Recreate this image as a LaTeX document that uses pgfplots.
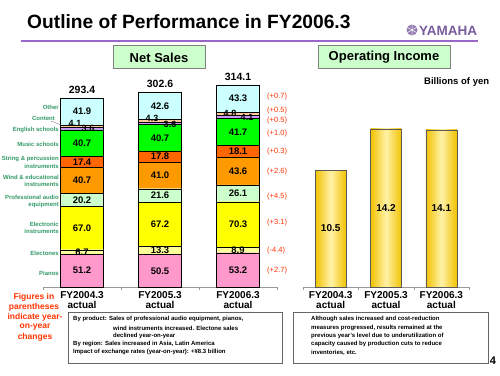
\documentclass[border=0pt]{standalone}
\usepackage{pgfplots}
\pgfplotsset{compat=1.18}
\usepackage{fontspec}
\setmainfont{Liberation Sans}
\definecolor{cPiano}{HTML}{FF99CC}
\definecolor{cElectone}{HTML}{FFFF99}
\definecolor{cElectronic}{HTML}{FFFF00}
\definecolor{cPro}{HTML}{CCFFCC}
\definecolor{cWind}{HTML}{FF9900}
\definecolor{cString}{HTML}{FF6600}
\definecolor{cMusic}{HTML}{00FF00}
\definecolor{cEnglish}{HTML}{CC99FF}
\definecolor{cContent}{HTML}{FFCC99}
\definecolor{cOther}{HTML}{CCFFFF}
\definecolor{catGreen}{HTML}{339966}
\definecolor{chRed}{HTML}{FF3300}
\definecolor{purpleLine}{HTML}{9966CC}
\definecolor{yamahaC}{HTML}{7A5C9E}
\definecolor{boxGreen}{HTML}{CCFFCC}
\definecolor{goldD}{HTML}{F2C200}
\definecolor{goldL}{HTML}{FFF2A8}
\newcommand{\fs}[1]{\fontsize{#1}{#1}\selectfont}
% label at bar-centre pixel x and data value v (net sales scale: 0.644 px per unit, zero at 287)
\newcommand{\lb}[3]{\node[font=\bfseries\fs{9.5}, inner sep=0pt] at (#1,{287-0.644*#2}) {#3};}
\newcommand{\slb}[3]{\node[font=\bfseries\fs{9}, inner sep=0pt] at (#1,{287-0.644*#2}) {#3};}
\begin{document}
\begin{tikzpicture}
\useasboundingbox (0pt,0pt) rectangle (500pt,375pt);

% ===== Net sales stacked bars =====
\begin{axis}[at={(43pt,88pt)}, anchor=south west, scale only axis,
  width=234pt, height=206.08pt, xmin=0.5, xmax=3.5, ymin=0, ymax=320,
  ybar stacked, bar width=43pt,
  axis y line=none, axis x line*=bottom, x axis line style={gray!80, -},
  xtick={1,2,3}, xticklabels={{FY2004.3\\actual},{FY2005.3\\actual},{FY2006.3\\actual}},
  xticklabel style={font=\bfseries\fs{10}, align=center, yshift=-1pt},
  major tick length=0pt, minor xtick={0.5,1.5,2.5,3.5}, minor tick length=3pt,
  tick align=outside, minor tick style={gray!80},
  clip=false]
\addplot[fill=cPiano, draw=black] coordinates {(1,51.2)(2,50.5)(3,53.2)};
\addplot[fill=cElectone, draw=black] coordinates {(1,6.7)(2,13.3)(3,8.9)};
\addplot[fill=cElectronic, draw=black] coordinates {(1,67.0)(2,67.2)(3,70.3)};
\addplot[fill=cPro, draw=black] coordinates {(1,20.2)(2,21.6)(3,26.1)};
\addplot[fill=cWind, draw=black] coordinates {(1,40.7)(2,41.0)(3,43.6)};
\addplot[fill=cString, draw=black] coordinates {(1,17.4)(2,17.8)(3,18.1)};
\addplot[fill=cMusic, draw=black] coordinates {(1,40.7)(2,40.7)(3,41.7)};
\addplot[fill=cEnglish, draw=black] coordinates {(1,3.6)(2,3.6)(3,4.1)};
\addplot[fill=cContent, draw=black] coordinates {(1,4.1)(2,4.3)(3,4.8)};
\addplot[fill=cOther, draw=black] coordinates {(1,41.9)(2,42.6)(3,43.3)};
% totals
\node[font=\bfseries\fs{10.5}, anchor=south, inner sep=0pt, yshift=4pt] at (axis cs:1,293.5) {293.4};
\node[font=\bfseries\fs{10.5}, anchor=south, inner sep=0pt, yshift=4pt] at (axis cs:2,302.6) {302.6};
\node[font=\bfseries\fs{10.5}, anchor=south, inner sep=0pt, yshift=4pt] at (axis cs:3,314.1) {314.1};
\end{axis}

% ===== Operating income =====
\begin{axis}[at={(303pt,88pt)}, anchor=south west, scale only axis,
  width=166pt, height=178.2pt, xmin=0.5, xmax=3.5, ymin=0, ymax=16,
  ybar, bar width=31pt, bar shift=0pt,
  axis y line=none, axis x line*=bottom, x axis line style={gray!80, -},
  xtick={1,2,3}, xticklabels={{FY2004.3\\actual},{FY2005.3\\actual},{FY2006.3\\actual}},
  xticklabel style={font=\bfseries\fs{10}, align=center, yshift=-1pt},
  major tick length=0pt, minor xtick={0.5,1.5,2.5,3.5}, minor tick length=3pt,
  tick align=outside, minor tick style={gray!80},
  clip=false]
\addplot[draw=gray!70!black, left color=goldD, right color=goldD, middle color=goldL] coordinates {(1,10.5)};
\addplot[draw=gray!70!black, left color=goldD, right color=goldD, middle color=goldL] coordinates {(2,14.2)};
\addplot[draw=gray!70!black, left color=goldD, right color=goldD, middle color=goldL] coordinates {(3,14.1)};
\node[font=\bfseries\fs{10}] at (axis cs:1,5.25) {10.5};
\node[font=\bfseries\fs{10}] at (axis cs:2,7.1) {14.2};
\node[font=\bfseries\fs{10}] at (axis cs:3,7.05) {14.1};
\end{axis}

\begin{scope}[x=1pt, y=-1pt, yshift=375pt]
% segment labels
\lb{82}{25.6}{51.2}
\lb{82}{54.55}{6.7}
\lb{82}{91.4}{67.0}
\lb{82}{135.0}{20.2}
\lb{82}{165.45}{40.7}
\lb{82}{194.5}{17.4}
\lb{82}{223.55}{40.7}
\lb{82}{272.55}{41.9}
\lb{160}{25.25}{50.5}
\lb{160}{57.15}{13.3}
\lb{160}{97.4}{67.2}
\lb{160}{141.8}{21.6}
\lb{160}{173.1}{41.0}
\lb{160}{202.5}{17.8}
\lb{160}{231.75}{40.7}
\lb{160}{281.3}{42.6}
\lb{238}{26.6}{53.2}
\lb{238}{57.65}{8.9}
\lb{238}{97.25}{70.3}
\lb{238}{145.45}{26.1}
\lb{238}{180.15}{43.6}
\lb{238}{211.15}{18.1}
\lb{238}{241.05}{41.7}
\lb{238}{292.45}{43.3}
\slb{75}{254.5}{4.1}
\slb{88}{245.5}{3.6}
\slb{152}{262}{4.3}
\slb{170}{253}{3.6}
\slb{230}{270}{4.8}
\slb{247}{264}{4.1}
% title
\node[anchor=base west, inner sep=0pt, font=\bfseries\fs{19.2}] at (27,29) {Outline of Performance in FY2006.3};
\draw[purpleLine, line width=1.8pt] (21,41) -- (478,41);
% logo
\fill[yamahaC!80] (412,30) circle (5.5pt);
\draw[white, line width=0.5pt] (412,25) -- (412,35) (407.5,27.5) -- (416.5,32.5) (407.5,32.5) -- (416.5,27.5);
\node[anchor=base west, inner sep=0pt, font=\bfseries\fs{13.5}, text=yamahaC] at (419,35.5) {YAMAHA};
% section boxes
\draw[gray, fill=boxGreen] (113,45) rectangle (205,68);
\node[font=\bfseries\fs{13}] at (159,57.5) {Net Sales};
\draw[gray, fill=boxGreen] (318,45) rectangle (450,68);
\node[font=\bfseries\fs{13}] at (384,57.5) {Operating Income};
\node[anchor=west, inner sep=0pt, font=\bfseries\fs{9.5}] at (424,82) {Billions of yen};

% category labels
\begin{scope}[every node/.style={anchor=east, align=right, inner sep=0pt, text=catGreen, font=\bfseries\fontsize{6}{7.5}\selectfont}]
\node at (59,107) {Other};
\node at (55,118) {Content};
\node at (59,130) {English schools};
\node at (59,144) {Music schools};
\node at (59,162.5) {String \& percussion\\instruments};
\node at (59,181) {Wind \& educational\\instruments};
\node at (59,201.5) {Professional audio\\equipment};
\node at (59,228) {Electronic\\instruments};
\node at (59,253) {Electones};
\node at (59,273) {Pianos};
\end{scope}
\draw[gray, line width=0.4pt] (51,121) -- (61,125);
% changes
\begin{scope}[every node/.style={anchor=west, inner sep=0pt, text=chRed, font=\fs{7.5}}]
\node at (267,97) {(+0.7)};
\node at (267,111) {(+0.5)};
\node at (267,121) {(+0.5)};
\node at (267,134) {(+1.0)};
\node at (267,152) {(+0.3)};
\node at (267,172) {(+2.6)};
\node at (267,197) {(+4.5)};
\node at (267,223) {(+3.1)};
\node at (267,251) {(-4.4)};
\node at (267,271) {(+2.7)};
\end{scope}
% figures in parentheses
\begin{scope}[every node/.style={inner sep=0pt, text=chRed, font=\bfseries\fs{8.5}}]
\node at (34,297) {Figures in};
\node at (34,307) {parentheses};
\node at (35,317) {indicate year-};
\node at (35,327) {on-year};
\node at (35,337) {changes};
\end{scope}

% text boxes
\draw[gray!80!black, line width=0.6pt] (68,312) rectangle (282,363);
\begin{scope}[every node/.style={anchor=west, inner sep=0pt, font=\bfseries\fs{6}}]
\node at (73,319) {By product: Sales of professional audio equipment, pianos,};
\node at (113,328) {wind instruments increased. Electone sales};
\node at (113,336) {declined year-on-year};
\node at (73,344) {By region: Sales increased in Asia, Latin America};
\node at (73,352) {Impact of exchange rates (year-on-year): +¥8.3 billion};
\end{scope}
\draw[gray!80!black, line width=0.6pt] (293,312) rectangle (488,363);
\begin{scope}[every node/.style={anchor=west, inner sep=0pt, font=\bfseries\fs{6}}]
\node at (311,319) {Although sales increased and cost-reduction};
\node at (311,328) {measures progressed, results remained at the};
\node at (311,336) {previous year's level due to underutilization of};
\node at (311,344) {capacity caused by production cuts to reduce};
\node at (311,353) {inventories, etc.};
\end{scope}
\node[font=\bfseries\fs{11}, inner sep=0pt] at (493,361) {4};
\end{scope}
\end{tikzpicture}
\end{document}
